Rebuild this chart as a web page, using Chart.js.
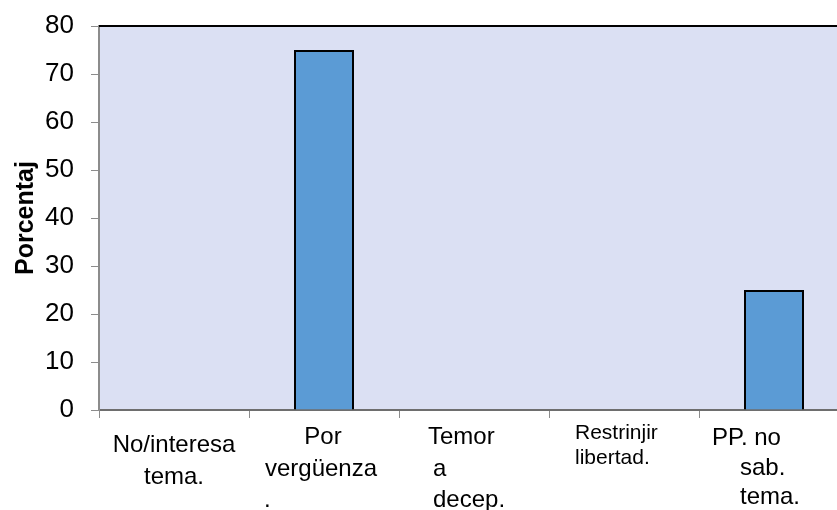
<!DOCTYPE html>
<html>
<head>
<meta charset="utf-8">
<script src="https://cdn.jsdelivr.net/npm/chart.js@4.4.1/dist/chart.umd.min.js"></script>
<style>
  html, body { margin: 0; padding: 0; background: #ffffff; overflow: hidden; }
  #wrap { width: 850px; height: 510px; position: relative; }
</style>
</head>
<body>
<div id="wrap"><canvas id="c"></canvas></div>
<script>
// ---- data ----
const categories = [
  ["No/interesa", "tema."],
  ["Por", "vergüenza", "."],
  ["Temor", "a", "decep."],
  ["Restrinjir", "libertad."],
  ["PP. no", "sab.", "tema."]
];
const values = [0, 75, 0, 0, 25];
const yTicks = [0, 10, 20, 30, 40, 50, 60, 70, 80];
const yTitle = "Porcentaj";

// ---- label placement (style only): per line [align, dx from category centre, dy below axis], and font size ----
const labelLayout = [
  { size: 24, lines: [["center", 0, 35], ["center", 0, 67]] },
  { size: 24, lines: [["center", -1, 27], ["center", -3, 59], ["left", -60, 90]] },
  { size: 24, lines: [["left", -46, 27], ["left", -41, 59], ["left", -41, 90]] },
  { size: 21, lines: [["left", -49, 23], ["left", -49, 48]] },
  { size: 24, lines: [["left", -62, 28], ["left", -34, 58], ["left", -34, 87]] }
];

const plotBg = {
  id: 'plotBg',
  beforeDraw(chart) {
    const a = chart.chartArea, ctx = chart.ctx;
    ctx.save();
    ctx.fillStyle = '#dbe0f3';
    ctx.fillRect(a.left, a.top, a.right - a.left, a.bottom - a.top);
    ctx.restore();
  },
  afterDraw(chart) {
    const a = chart.chartArea, ctx = chart.ctx;
    ctx.save();
    ctx.strokeStyle = '#000000';
    ctx.lineWidth = 2;
    ctx.beginPath();
    ctx.moveTo(a.left, a.top);
    ctx.lineTo(a.right, a.top);
    ctx.stroke();
    // category labels
    const xs = chart.scales.x;
    ctx.fillStyle = '#000000';
    ctx.textBaseline = 'middle';
    categories.forEach((lines, i) => {
      const cx = xs.getPixelForValue(i);
      const lay = labelLayout[i];
      ctx.font = lay.size + 'px "Liberation Sans", Arial, sans-serif';
      lines.forEach((txt, j) => {
        const [al, dx, dy] = lay.lines[j];
        ctx.textAlign = al;
        ctx.fillText(txt, cx + dx, a.bottom + dy);
      });
    });
    ctx.restore();
  }
};

new Chart(document.getElementById('c'), {
  type: 'bar',
  data: {
    labels: categories.map(l => l.join(' ')),
    datasets: [{
      data: values,
      backgroundColor: '#5b9bd5',
      borderColor: '#000000',
      borderWidth: 2,
      borderSkipped: 'bottom',
      categoryPercentage: 1.0,
      barPercentage: 0.4
    }]
  },
  options: {
    responsive: true,
    maintainAspectRatio: false,
    animation: false,
    layout: { padding: { top: 26, left: 0, right: 1, bottom: 0 } },
    plugins: { legend: { display: false }, tooltip: { enabled: false } },
    scales: {
      x: {
        offset: true,
        grid: { display: true, drawOnChartArea: false, offset: true, color: '#8c8c8c', tickLength: 8 },
        border: { display: true, color: '#6e6e6e', width: 2 },
        ticks: { callback: () => '', padding: 0 },
        afterFit(s) { s.height = 100; s.paddingLeft = 0; s.paddingRight = 0; }
      },
      y: {
        min: 0, max: 80,
        afterBuildTicks(s) { s.ticks = yTicks.map(v => ({ value: v })); },
        grid: { display: true, drawOnChartArea: false, color: '#8c8c8c', tickLength: 8 },
        border: { display: true, color: '#8c8c8c', width: 2 },
        ticks: {
          color: '#000000',
          padding: 17,
          font: { family: '"Liberation Sans", Arial, sans-serif', size: 26 }
        },
        title: {
          display: true,
          text: yTitle,
          color: '#000000',
          font: { family: '"Liberation Sans", Arial, sans-serif', size: 25, weight: 'bold' },
          padding: { top: 11, bottom: 0 }
        },
        afterFit(s) { s.width = 99; s.paddingTop = 0; s.paddingBottom = 0; }
      }
    }
  },
  plugins: [plotBg]
});
</script>
</body>
</html>
